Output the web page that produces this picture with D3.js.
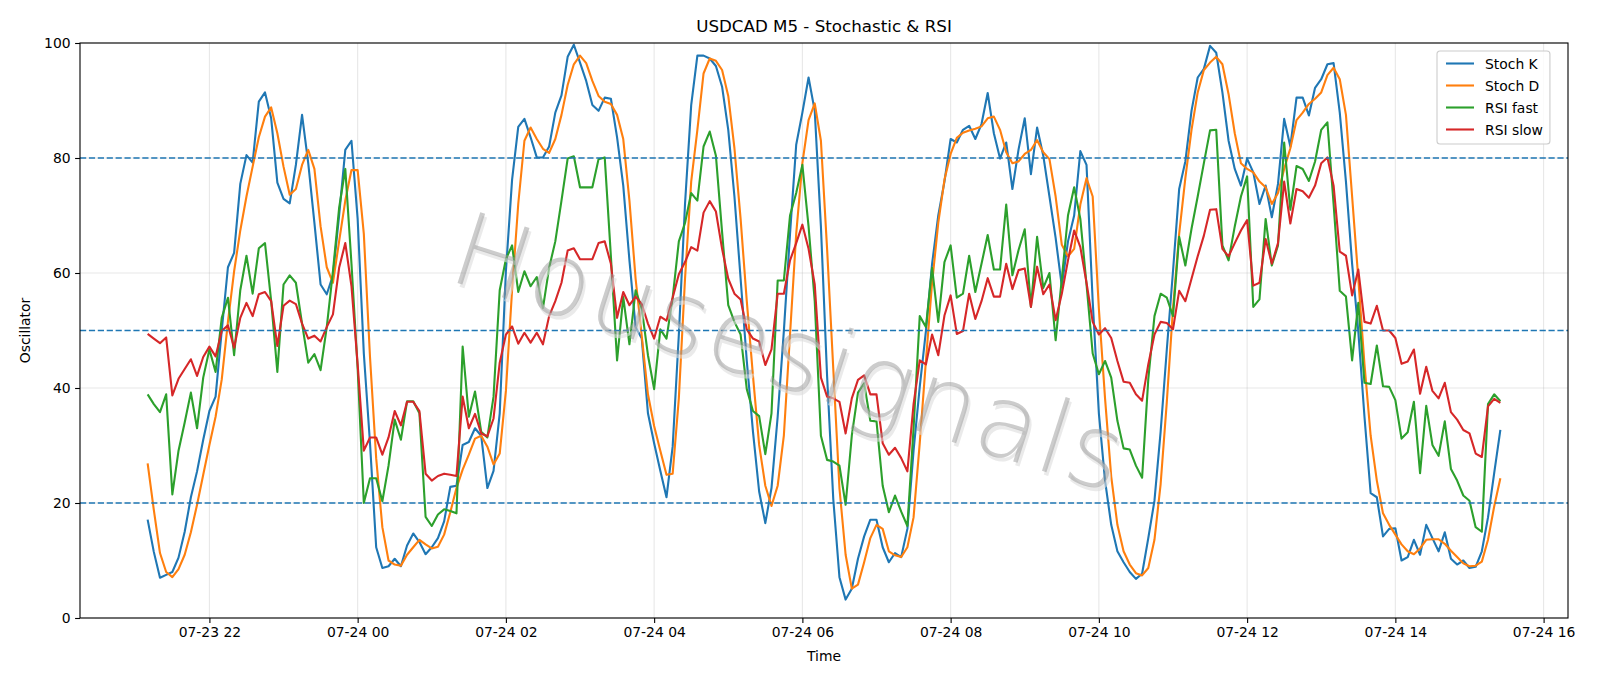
<!DOCTYPE html>
<html>
<head>
<meta charset="utf-8">
<script src="https://cdn.jsdelivr.net/npm/d3@7"></script>
<style>
  body { margin: 0; background: #fff; }
  text { font-family: "DejaVu Sans", sans-serif; }
</style>
</head>
<body>
<svg id="chart" width="1600" height="686"></svg>
<script>
// values, one per 5 minute bar starting 07-23 21:10
const stochK = [17.1,11.5,7,7.5,8,10.5,15,21,25.5,31,36,38.5,50,61,63.5,75.5,80.5,79.2,89.8,91.4,
  86.9,75.7,72.9,72.1,78.8,87.5,79.1,68.7,58,56.3,59.6,70,81.4,83,69.4,46,30.4,12.3,8.7,9,
  10.3,9,12.6,14.7,13.2,11.1,12.3,13.9,16.8,22.8,23,30.1,30.6,33,31.7,22.6,25.6,35.6,60.3,76.2,
  85.4,86.8,83.6,80.1,80.1,82,87.9,90.9,97.6,99.7,96.6,93.4,89.2,88.2,90.5,90.3,83.6,75.2,62.2,50.6,
  48.6,35.6,30.4,25.6,21,29.8,49.3,72,89.2,97.8,97.8,97.3,96,92.4,84.9,73.3,59,44.7,32.4,22,
  16.5,22.6,35,49.9,66.8,82.3,87.9,94,88.2,68.1,42.1,20.7,7.1,3.2,5.1,10.3,14.2,17.1,17.1,12.3,
  9.7,11.3,10.6,15.5,29.1,40.2,49.9,61.6,70,75.9,83.3,82.7,84.9,85.6,83.3,85.9,91.3,84.3,79.9,82.7,
  74.6,81.5,86.9,77.2,85.3,80.4,73.3,66.1,57.7,65.5,70,81.2,78.8,55.1,35.6,23.9,16.2,11.6,9.7,8,
  6.8,7.7,13.9,20.4,32.4,46.7,60.3,74.6,79.4,88.2,94,95.5,99.5,98.3,91.4,83,78.1,75.2,79.9,77.5,
  72,75.2,69.7,75.5,86.8,82,90.5,90.5,87.4,92.2,93.7,96.3,96.5,87.9,75.9,61.6,49.9,35,21.7,21,
  14.2,15.5,15.6,10,10.6,13.6,11,16.2,13.9,11.6,14.9,10.3,9.3,10,8.7,8.9,11.6,17.5,25.2,32.7];

const stochD = [26.9,18.8,11.3,8,7.1,8.5,11,14.9,19.7,24.9,30.1,35,41.5,51.5,60.3,67.4,73.3,78.5,83.6,87.2,
  88.8,84.3,78.5,73.6,74.6,78.8,81.4,78.1,68.1,61,58.3,65.5,72.6,77.9,77.9,66.8,45.4,27.8,15.8,10,
  9.3,9.1,11,12.3,13.6,12.8,12.1,12.4,14.5,18.4,22.6,25.8,28.4,31.2,31.7,29.8,26.7,28.6,39.5,57,
  72,83,85.3,83.3,81.6,80.9,83.3,87.5,92.7,96.3,97.8,96.5,93.4,90.8,89.8,89.4,87.5,83.3,72.6,59,
  49,38.9,33.4,29.1,24.9,25.1,38.2,59,75.9,84.9,94.7,97.3,96.9,95.3,90.8,81.7,69.4,55.1,42.1,30.1,
  23,19.5,23,31.7,49.3,66.8,79.1,86.6,89.5,83,64.2,43.4,22.6,11,5.1,5.8,9.7,13.9,16.2,15.5,
  11.6,10.9,10.6,12.3,17.5,30.4,44.7,58.3,68.7,76.2,80.7,83.5,84.4,84.8,85.1,85.5,86.9,87.2,84.9,81,
  79.1,79.4,80.7,81.4,83.1,81,79.8,73.3,64.9,62.9,64.2,71.9,76.5,73.3,53.8,38.2,24.6,16.2,11.6,9.3,
  7.8,7.4,8.7,13.6,23.3,37.6,53.8,66.8,76.5,84.9,91.4,95.3,96.6,97.6,96.3,91.1,84.3,79.1,78.1,77.5,
  75.9,74.9,72,73.9,78.1,81.7,86.6,87.9,89.4,90.3,91.4,94.4,95.7,93.7,87.5,73.3,59,44.1,31.7,23.9,
  18.2,16.2,14.5,12.8,11.6,11.1,12.1,13.6,13.7,13.7,12.9,11.7,10.6,9.5,9,9.1,9.8,13.6,19.4,24.3];

const rsiFast = [38.9,37.2,35.8,38.9,21.5,29.1,34,39.2,33,41.8,46.7,42.8,52.2,55.7,45.7,57,63,56.4,64.3,65.2,
  55.1,42.8,58,59.6,58.3,51.2,44.4,45.9,43.1,50.6,60.3,71.3,78.1,61.6,43.4,20,24.3,24.3,20.3,26.5,
  34.5,31,37.7,37.7,35.6,17.6,16,18,18.9,18.6,18.2,47.2,35,39.4,32.4,31.4,38.5,57,62.4,64.8,
  56.7,60.3,57.7,59.3,53.9,60.9,65.5,72.6,79.9,80.3,74.9,74.9,74.9,79.8,80.1,62.9,44.8,55.8,47.6,57,
  53.8,45.7,39.8,50.2,48.6,55.7,65.5,68.7,73.9,72.6,82,84.6,80.4,67.1,54.4,51.5,49.3,39.8,36,35.1,
  28.5,35.6,58.7,58.7,70,73.9,78.8,68.1,55.1,31.7,27.5,27.2,26.5,19.7,31.7,39.2,40.8,34.3,34.2,23,
  18.4,21.3,18.5,16,33,52.5,50.6,60.9,51.5,61.9,64.8,55.7,56.4,63,56.7,61.6,66.6,60.6,60.6,71.9,
  59.6,64,67.6,54.1,66.3,57.4,60,48.3,59,70,74.9,69.4,58,46,42.4,44.7,41.8,34.3,29.5,29.3,
  26.5,24.4,41.5,52.5,56.4,55.7,52.5,66.3,61.3,67.7,73.3,79.1,84.8,84.9,64.8,62.2,68.1,73.3,76.8,54.1,
  55.4,69.4,61.3,64.8,82.7,71,78.6,78.1,76,79.4,84.9,86.2,72,56.9,55.9,44.8,54.8,40.9,40.7,47.4,
  40.3,40.2,37.9,31.2,32.3,37.6,25.2,36.9,30.1,28.2,34.2,25.9,23.9,21.3,20.4,15.8,15,37.2,38.9,37.7];

const rsiSlow = [49.4,48.6,47.8,48.8,38.7,41.6,43.3,45,42.1,45.4,47.2,45.5,49.9,50.9,47,52.2,54.8,52.5,56.3,56.7,
  55.1,47.3,54.3,55.2,54.6,51.2,48.6,49.1,48.1,50.6,52.8,60.9,65.2,57.7,44.1,29.1,31.4,31.4,28.4,31.4,
  36,33.5,37.6,37.6,36,25.1,23.9,24.7,25.1,24.9,24.7,38.5,33,35.5,32.1,31.6,34.7,44.4,49.3,50.7,
  47.7,49.6,47.9,49.6,47.6,52.5,55.1,58.3,63.9,64.3,62.4,62.4,62.4,65.2,65.5,61.6,52.2,56.7,54.4,55.9,
  54.6,51.2,48.6,52.4,51.7,55.7,59.8,61.9,64.5,63.9,70.5,72.5,70.7,64.2,59,56.4,55.4,50.2,48.6,48.1,
  44,46.7,56.4,56.4,62.2,65.2,68.4,64.2,58,41.8,38.5,38.2,37.6,32.1,38.2,41.4,42.2,38.9,38.9,30.4,
  28.4,29.6,27.8,25.5,37.2,44.8,44.1,49.3,45.7,52.6,56.1,49.4,49.9,56.4,52,55.1,59.1,55.9,55.9,61.6,
  57.2,60.5,60.8,54.1,61.1,56.3,58,51.8,56.4,62.2,67.4,64.5,58.3,51.5,49.3,50.4,48.7,44.7,41.1,40.9,
  38.9,37.8,44.1,49.3,51.5,51.3,50.2,56.9,55.1,59,62.9,66.5,71,71.1,64.2,62.9,65.2,67.4,69.2,57.8,
  58.3,65.9,61.6,65.2,75.9,68.6,74.6,74.2,73.1,75.2,79.1,80.1,75.2,63.7,63,56.1,60.6,51.5,51.2,54.3,
  50,50,48.7,44.2,44.6,46.7,39,43.7,39.5,38.2,40.9,35.8,34.5,32.7,32.1,28.6,28,36.8,38.1,37.4];

const startTime = new Date(2024, 6, 23, 21, 10);
const barMinutes = 5;
const levels = [20, 50, 80];
const yTicks = [0, 20, 40, 60, 80, 100];
const seriesNames = ["Stoch K", "Stoch D", "RSI fast", "RSI slow"];
const seriesColors = ["#1f77b4", "#ff7f0e", "#2ca02c", "#d62728"];
const seriesValues = [stochK, stochD, rsiFast, rsiSlow];

const times = stochK.map((v, i) => d3.timeMinute.offset(startTime, i * barMinutes));

const svg = d3.select("#chart");
svg.append("rect").attr("width", 1600).attr("height", 686).attr("fill", "#fff");

const plotL = 80, plotR = 1568, plotT = 43, plotB = 618;

// 5% padding on both ends, like matplotlib
const t0 = times[0], t1 = times[times.length - 1];
const pad = (t1 - t0) * 0.05;
const x = d3.scaleTime()
  .domain([new Date(+t0 - pad), new Date(+t1 + pad)])
  .range([plotL, plotR]);
const y = d3.scaleLinear().domain([0, 100]).range([plotB, plotT]);

const xTicks = x.ticks(d3.timeHour.every(2));

// grid
const grid = svg.append("g").attr("stroke", "#b0b0b0").attr("stroke-opacity", 0.3).attr("stroke-width", 1.1);
grid.selectAll("line.gx").data(xTicks).join("line")
  .attr("x1", d => x(d)).attr("x2", d => x(d)).attr("y1", plotT).attr("y2", plotB);
grid.selectAll("line.gy").data(yTicks).join("line")
  .attr("x1", plotL).attr("x2", plotR).attr("y1", d => y(d)).attr("y2", d => y(d));

// series
const line = d3.line().x((d, i) => x(times[i])).y(d => y(d));
seriesValues.forEach((vals, k) => {
  svg.append("path")
    .datum(vals)
    .attr("fill", "none")
    .attr("stroke", seriesColors[k])
    .attr("stroke-width", 2.1)
    .attr("stroke-linejoin", "round")
    .attr("d", line);
});

// 20 / 50 / 80 levels
svg.selectAll("line.level").data(levels).join("line")
  .attr("x1", plotL).attr("x2", plotR)
  .attr("y1", d => y(d)).attr("y2", d => y(d))
  .attr("stroke", "#1f77b4").attr("stroke-width", 1.6)
  .attr("stroke-dasharray", "6.2,2.7");

// axes
const xAxis = svg.append("g").attr("transform", `translate(0,${plotB})`)
  .call(d3.axisBottom(x).tickValues(xTicks).tickFormat(d3.timeFormat("%m-%d %H"))
    .tickSize(4.9).tickPadding(4.5).tickSizeOuter(0));
const yAxis = svg.append("g").attr("transform", `translate(${plotL},0)`)
  .call(d3.axisLeft(y).tickValues(yTicks).tickSize(4.9).tickPadding(4.5).tickSizeOuter(0));
[xAxis, yAxis].forEach(g => {
  g.select(".domain").remove();
  g.selectAll("line").attr("stroke", "#000").attr("stroke-width", 1.1);
  g.selectAll("text").attr("font-size", "13.9px").attr("fill", "#000")
    .style("font-family", '"DejaVu Sans", sans-serif');
});

svg.append("rect")
  .attr("x", plotL).attr("y", plotT).attr("width", plotR - plotL).attr("height", plotB - plotT)
  .attr("fill", "none").attr("stroke", "#000").attr("stroke-width", 1.1);

// labels
svg.append("text").attr("x", (plotL + plotR) / 2).attr("y", 32)
  .attr("text-anchor", "middle").attr("font-size", "16.7px")
  .text("USDCAD M5 - Stochastic & RSI");
svg.append("text").attr("x", (plotL + plotR) / 2).attr("y", 661)
  .attr("text-anchor", "middle").attr("font-size", "13.9px").text("Time");
svg.append("text").attr("transform", `translate(30,${(plotT + plotB) / 2}) rotate(-90)`)
  .attr("text-anchor", "middle").attr("font-size", "13.9px").text("Oscillator");

// legend
const lg = svg.append("g").attr("transform", "translate(1437,51)");
const lgBox = lg.append("rect").attr("rx", 3).attr("fill", "#fff").attr("fill-opacity", 0.8)
  .attr("stroke", "#cccccc").attr("stroke-width", 1.1).attr("height", 93);
const rows = lg.selectAll("g.row").data(seriesNames).join("g")
  .attr("transform", (d, i) => `translate(0,${12.5 + i * 22})`);
rows.append("line").attr("x1", 9).attr("x2", 37)
  .attr("stroke", (d, i) => seriesColors[i]).attr("stroke-width", 2.1);
rows.append("text").attr("x", 48).attr("dy", "0.36em").attr("font-size", "13.9px").text(d => d);
let maxW = 0;
rows.selectAll("text").each(function () { maxW = Math.max(maxW, this.getComputedTextLength()); });
lgBox.attr("width", 48 + maxW + 7);

// watermark, drawn on top like fig.text
const wm = svg.append("g").attr("transform", "translate(788,360) rotate(17.8)");
wm.append("text").attr("x", 3).attr("y", 3)
  .attr("text-anchor", "middle").attr("dominant-baseline", "middle")
  .attr("font-size", "102px").attr("font-weight", 200).attr("letter-spacing", "2.5px")
  .attr("fill", "#dcdcdc").attr("fill-opacity", 0.6).text("Housesignals");
wm.append("text")
  .attr("text-anchor", "middle").attr("dominant-baseline", "middle")
  .attr("font-size", "102px").attr("font-weight", 200).attr("letter-spacing", "2.5px")
  .attr("fill", "#999999").attr("fill-opacity", 0.5).text("Housesignals");
</script>
</body>
</html>
